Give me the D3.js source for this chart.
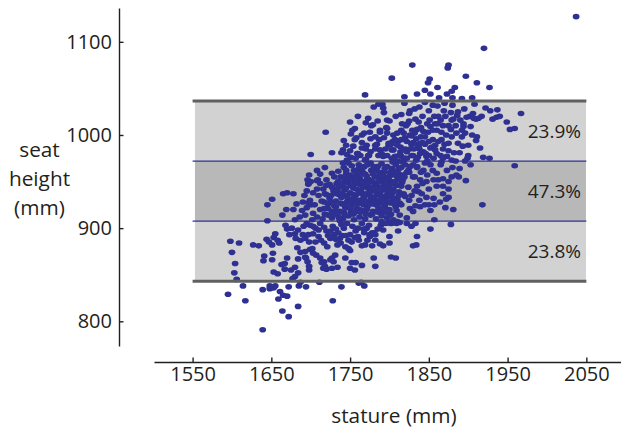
<!DOCTYPE html>
<html>
<head>
<meta charset="utf-8">
<script src="https://cdnjs.cloudflare.com/ajax/libs/d3/7.8.5/d3.min.js"></script>
<style>
  html, body { margin: 0; padding: 0; background: white; }
  svg { display: block; }
  text { font-family: "Open Sans", sans-serif; fill: #231f20; }
</style>
</head>
<body>
<div id="chart"></div>
<script>
// values: [stature, seat height] in mm
var above = [[2037,1127],[1920,1093],[1829,1075],[1875,1075],[1874,1072],[1803,1061],[1897,1063],[1911,1056],[1927,1051],[1851,1060],[1849,1056],[1861,1051],[1883,1051],[1845,1048],[1879,1047],[1873,1044],[1852,1044],[1835,1044],[1819,1041],[1863,1040],[1880,1040],[1892,1039],[1905,1040],[1769,1043]];

var upper = [[1719,1003],[1700,979],[1727,981],[1750,1014],[1770,1013],[1779,1011],[1777,1010],[1780,1030],[1786,1033],[1791,1033],[1792,1029],[1793,1024],[1797,1016],[1756,1007],[1753,1005],[1751,1001],[1768,1002],[1765,1000],[1758,997],[1756,995],[1742,994],[1745,989],[1741,984],[1739,981],[1754,988],[1750,983],[1746,979],[1759,980],[1765,986],[1771,989],[1776,996],[1788,1005],[1797,1007],[1793,997],[1787,995],[1784,990],[1774,978],[1770,974],[1792,977],[1788,984],[1799,989],[1746,973],
  [1819,1034],[1908,1033],[1880,1032],[1861,1031],[1838,1030],[1832,1028],[1826,1026],[1825,1023],[1895,1028],[1922,1029],[1928,1026],[1937,1027],[1869,1026],[1887,1025],[1886,1021],[1906,1023],[1967,1023],[1940,1020],[1936,1019],[1931,1017],[1917,1020],[1913,1018],[1910,1017],[1907,1018],[1898,1019],[1881,1017],[1879,1016],[1871,1020],[1862,1020],[1857,1020],[1949,1014],[1959,1007],[1953,1006],[1903,1009],[1894,1012],[1894,1009],[1911,998],[1910,994],[1900,989],[1893,988],[1915,986],[1887,991],[1875,991],[1896,1002],[1892,1005],[1885,1002],[1879,998],[1872,1000],[1875,1010],[1868,1010],[1852,1009],[1849,1003],[1860,1005],[1878,1006],[1861,1012],[1833,1017],[1837,1014],[1816,1012],[1823,1012],[1821,1010],[1829,1005],[1796,1008],[1818,1002],[1810,1002],[1828,999],[1840,998],[1845,998],[1822,993],[1830,992],[1839,991],[1804,993],[1811,993],[1855,995],[1858,989],[1854,987],[1862,993],
  [1919,976],[1927,975],[1899,975],[1896,972],[1900,978],[1882,981],[1889,981],[1868,985],[1860,980],[1852,986],[1843,982],[1837,987],[1828,990],[1873,977],[1879,973],[1866,971],[1856,975],[1847,977],[1839,980],[1830,978],[1822,982],[1814,987],[1805,984],[1799,991],[1792,978],[1807,977],[1818,973],[1807,995],[1810,989],[1803,984],[1814,982],[1790,980],[1797,978],[1786,978],[1769,973],[1760,980],[1773,978],[1788,1003],[1797,1002],[1782,989],
  [1838,985],[1846,980],[1834,973],[1828,978],[1842,992],[1834,996],[1826,985],[1820,975],
  [1770,985],[1776,982],[1782,985],[1757,975],[1763,978],[1751,976],[1795,985],[1802,990],[1815,977],[1822,975],[1810,972],[1831,985],[1836,976],[1845,990],[1850,978],[1820,997],[1832,1002],[1848,1012],[1855,1005],[1866,1003],[1870,990],[1865,978],
  [1815,1005],[1825,1015],[1835,1006],[1843,1004],[1851,1016],[1858,1012],[1865,1016],[1842,1020],[1850,1026],[1845,1035],[1855,1032],[1870,1034],[1878,1024],[1890,1016],[1902,1020],[1884,1010],[1866,995],[1875,983],[1884,972],[1892,998],[1905,1000],[1848,972],[1858,984],[1868,975],[1840,1008],[1826,1000],[1815,995],[1805,1000],[1800,1015],[1808,1020],[1815,1022],[1820,985],[1812,978],[1835,990],[1850,993],[1803,975],[1775,1003],[1782,998],[1765,992],[1773,1018],[1785,1015],[1760,1020]];

var middle = [[1959,967],[1918,925],[1881,920],[1871,922],[1852,919],[1857,909],[1857,925],[1864,928],[1872,931],[1875,933],[1868,937],[1897,951],[1885,957],[1879,955],[1888,955],[1875,950],[1868,953],[1862,952],[1889,964],[1873,962],[1860,959],[1903,968],
  [1856,932],[1847,933],[1841,937],[1837,939],[1845,925],[1839,923],[1833,924],[1826,921],[1830,918],[1822,911],[1813,914],[1805,909],[1801,914],[1809,919],[1794,923],[1801,927],[1797,934],[1818,937],[1824,944],[1813,927],[1820,934],[1807,932],[1790,932],[1792,941],[1799,952],[1805,948],[1811,959],[1818,957],[1824,962],[1830,955],[1835,966],[1843,962],[1852,968],[1839,952],[1847,950],[1856,952],
  [1651,931],[1645,925],[1665,937],[1670,938],[1678,937],[1682,926],[1692,935],[1695,940],[1708,942],[1697,948],[1696,952],[1698,957],[1709,952],[1664,914],[1669,920],[1678,920],[1699,930],[1697,927],[1701,925],[1695,922],[1689,919],[1703,916],[1693,914],[1686,912],[1680,909],[1645,908],
  [1708,962],[1708,951],[1697,947],[1720,952],[1720,946],[1718,937],[1717,928],[1727,959],[1735,961],[1741,970],
  [1742,965],[1748,970],[1755,962],[1761,968],[1768,966],[1776,970],[1783,963],[1790,969],[1797,966],[1804,971],[1812,964],[1820,968],
  [1738,955],[1745,958],[1752,952],[1759,957],[1766,960],[1772,953],[1779,958],[1786,955],[1793,960],[1800,956],[1807,961],[1814,957],[1822,960],
  [1733,948],[1741,945],[1747,949],[1754,943],[1762,947],[1769,950],[1775,944],[1782,948],[1789,951],[1795,945],[1802,950],[1809,946],[1816,949],
  [1729,940],[1736,936],[1743,941],[1750,938],[1757,935],[1764,941],[1770,937],[1777,940],[1784,936],[1791,942],[1798,938],[1805,942],[1812,939],
  [1724,932],[1732,929],[1739,933],[1746,928],[1753,931],[1760,926],[1767,932],[1774,929],[1781,933],[1788,927],[1795,931],[1802,928],[1810,931],
  [1722,921],[1730,924],[1737,918],[1744,922],[1751,917],[1758,921],[1765,919],[1772,923],[1779,918],[1786,922],[1793,917],[1800,920],[1808,923],
  [1727,911],[1734,914],[1741,910],[1748,913],[1755,909],[1762,912],[1769,910],[1776,914],[1783,910],[1790,913],[1797,911],
  [1756,948],[1763,952],[1771,956],[1778,950],[1785,945],[1792,951],[1799,947],[1765,937],[1772,943],[1780,930],[1788,938],[1796,935],[1803,933],[1760,930],[1767,925],[1775,935],[1783,925],[1790,934],[1758,942],[1752,925],[1746,935],[1740,926],[1735,943],[1770,915],[1778,926],[1786,917],[1794,924],[1802,915],[1777,962],[1785,966],[1793,955],[1803,964],[1810,955],[1817,952],[1760,963],[1750,957],[1743,950],[1754,915],[1762,920],[1742,917],
  [1705,925],[1712,920],[1718,915],[1708,912],[1702,909],[1714,929],[1722,926],[1727,918],[1710,935],[1716,942],[1724,947],[1730,955],[1712,948],[1703,938],[1733,918],[1737,908],
  [1845,970],[1835,965],[1830,968],[1815,965],[1825,960],[1832,955],[1840,960],[1848,957],
  [1745,962],[1752,967],[1758,960],[1765,964],[1772,968],[1780,966],[1787,960],[1794,964],[1801,960],[1808,968],[1816,971],[1826,966],
  [1735,950],[1742,954],[1749,953],[1755,955],[1762,955],[1769,958],[1775,952],[1782,955],[1790,957],[1797,953],[1804,957],[1811,952],[1819,955],
  [1727,944],[1733,941],[1739,947],[1745,943],[1751,946],[1758,950],[1766,945],[1772,947],[1779,944],[1786,950],[1793,947],[1800,943],[1807,950],[1815,945],
  [1720,936],[1726,935],[1733,937],[1740,938],[1747,932],[1754,936],[1761,938],[1768,934],[1775,940],[1782,940],[1789,943],[1797,941],[1804,938],[1812,935],
  [1717,921],[1725,928],[1732,923],[1738,927],[1744,925],[1750,928],[1757,928],[1763,930],[1770,927],[1777,932],[1784,929],[1791,929],[1798,928],[1806,926],
  [1715,910],[1722,914],[1729,916],[1736,911],[1743,914],[1750,921],[1756,917],[1763,917],[1771,920],[1778,915],[1785,918],[1792,920],[1799,915],
  [1860,945],[1868,945],[1850,942],[1842,948],[1875,942],[1855,962],[1865,968],[1880,965],[1835,945],[1828,935],[1838,930],[1850,925],[1825,930],[1815,925],[1832,940],[1700,950],[1712,958],[1718,965],[1690,928]];

var lower = [[1598,886],[1609,884],[1600,874],[1604,862],[1603,852],[1606,845],[1627,882],[1634,881],[1641,870],[1640,865],[1652,873],[1651,866],[1644,888],[1647,885],[1651,882],[1655,894],[1653,890],[1658,887],[1660,884],[1653,853],[1658,851],
  [1670,868],[1667,862],[1663,861],[1667,856],[1675,855],[1680,858],[1684,852],[1680,848],[1677,846],[1684,867],[1694,868],[1696,864],[1693,869],[1698,859],[1698,855],[1717,864],[1714,863],[1718,859],[1716,857],[1720,856],[1727,857],[1734,858],[1731,871],[1727,868],[1729,864],[1725,866],[1744,868],[1752,863],[1757,863],[1750,857],[1756,855],[1765,860],[1780,868],[1782,859],[1703,873],[1707,871],[1712,868],[1699,877],[1693,875],[1687,874],[1683,879],[1702,878],
  [1668,903],[1670,899],[1673,893],[1680,894],[1684,898],[1691,902],[1699,903],[1706,900],[1712,905],[1687,887],[1693,889],[1697,893],[1703,894],[1710,891],[1717,884],[1721,880],[1734,882],[1738,884],[1744,880],[1750,876],[1748,878],[1761,887],[1765,881],[1769,882],[1782,887],[1788,883],[1792,881],[1800,884],[1792,898],[1800,891],[1775,893],[1780,895],
  [1771,900],[1778,895],[1775,891],[1782,893],[1789,903],[1801,905],[1810,907],[1813,906],[1878,904],[1852,899],[1835,891],[1834,882],[1830,881],[1811,897],[1802,869],[1808,868],[1828,902],[1833,905],[1822,905],[1809,905],[1803,905],[1799,906],[1790,907],
  [1720,897],[1728,902],[1735,895],[1742,900],[1750,893],[1757,897],[1765,905],[1725,889],[1732,888],[1740,892],[1748,887],[1756,890],[1768,895],
  [1695,905],[1703,902],[1710,898],[1717,901],[1725,897],[1732,899],[1739,904],[1746,905],[1753,902],[1760,900],[1767,899],[1774,903],[1785,899],[1795,905],
  [1676,900],[1681,889],[1690,893],[1698,885],[1706,885],[1713,887],[1722,892],[1730,893],[1737,889],[1745,892],[1752,885],[1760,891],[1772,887],[1778,881]];

var below = [[1614,838],[1595,829],[1617,822],[1639,834],[1639,791],[1648,835],[1648,838],[1651,836],[1655,838],[1653,836],[1661,832],[1659,824],[1665,828],[1670,827],[1664,811],[1672,805],[1672,837],[1684,816],[1685,838],[1687,842],[1694,837],[1728,822],[1739,837],[1768,838],[1764,842],[1761,841],[1711,842]];

var bandEdges = [843, 907.6, 972, 1036.5];
var bandShares = ["23.8%", "47.3%", "23.9%"];
var xTicks = [1550, 1650, 1750, 1850, 1950, 2050];
var yTicks = [800, 900, 1000, 1100];
var bandX = [1553, 2049.5];
var lineX = [1550, 2050];

var width = 621, height = 430;
var points = above.concat(upper, middle, lower, below);

var svg = d3.select("#chart").append("svg")
  .attr("width", width)
  .attr("height", height);

var x = d3.scaleLinear().domain([1501, 2094]).range([154, 621]);
var y = d3.scaleLinear().domain([773.5, 1136.3]).range([346, 8]);

// bands, the middle one darker
svg.selectAll("rect.band")
  .data(d3.pairs(bandEdges))
  .enter().append("rect")
   .attr("class", "band")
   .attr("x", x(bandX[0]))
   .attr("width", x(bandX[1]) - x(bandX[0]))
   .attr("y", function(d) { return y(d[1]); })
   .attr("height", function(d) { return y(d[0]) - y(d[1]); })
   .attr("fill", function(d, i) { return i == 1 ? "#b8b8b9" : "#d2d2d3"; });

// thin inner lines go under the dots
svg.selectAll("line.inner")
  .data(bandEdges.slice(1, 3))
  .enter().append("line")
   .attr("class", "inner")
   .attr("x1", x(lineX[0]))
   .attr("x2", x(lineX[1]))
   .attr("y1", function(d) { return y(d); })
   .attr("y2", function(d) { return y(d); })
   .attr("stroke", "#2e3192")
   .attr("stroke-width", 1.2);

svg.append("g").selectAll("ellipse")
  .data(points)
  .enter().append("ellipse")
   .attr("cx", function(d) { return x(d[0]); })
   .attr("cy", function(d) { return y(d[1]); })
   .attr("rx", 3.4)
   .attr("ry", 2.8)
   .attr("fill", "#2e3192");

// the thick outer ones on top
svg.selectAll("line.outer")
  .data([bandEdges[0], bandEdges[3]])
  .enter().append("line")
   .attr("class", "outer")
   .attr("x1", x(lineX[0]))
   .attr("x2", x(lineX[1]))
   .attr("y1", function(d) { return y(d); })
   .attr("y2", function(d) { return y(d); })
   .attr("stroke", "#5f6062")
   .attr("stroke-width", 3);

svg.selectAll("text.share")
  .data(bandShares)
  .enter().append("text")
   .attr("class", "share")
   .attr("x", 581)
   .attr("y", function(d, i) { return y((bandEdges[i] + bandEdges[i + 1]) / 2) + 6.5; })
   .attr("text-anchor", "end")
   .style("font-size", "19px")
   .text(function(d) { return d; });

var xAxis = d3.axisBottom(x).tickValues(xTicks).tickFormat(d3.format("d"))
  .tickSizeInner(-4.5).tickSizeOuter(0).tickPadding(5);
var yAxis = d3.axisLeft(y).tickValues(yTicks).tickFormat(d3.format("d"))
  .tickSizeInner(-4.5).tickSizeOuter(0).tickPadding(7);

var gx = svg.append("g").attr("transform", "translate(0,362)").call(xAxis);
var gy = svg.append("g").attr("transform", "translate(119,0)").call(yAxis);

[gx, gy].forEach(function(g) {
  g.selectAll("path, line").attr("stroke", "#231f20").attr("stroke-width", 1.4);
  g.selectAll("text").attr("fill", "#231f20").style("font-size", "20px").style("font-family", "'Open Sans', sans-serif");
});

svg.selectAll("text.ylabel")
  .data(["seat", "height", "(mm)"])
  .enter().append("text")
   .attr("class", "ylabel")
   .attr("x", 39.5)
   .attr("y", function(d, i) { return 157 + i * 29; })
   .attr("text-anchor", "middle")
   .style("font-size", "20.8px")
   .text(function(d) { return d; });

svg.append("text")
  .attr("x", 394)
  .attr("y", 423)
  .attr("text-anchor", "middle")
  .style("font-size", "20.8px")
  .text("stature (mm)");
</script>
</body>
</html>
